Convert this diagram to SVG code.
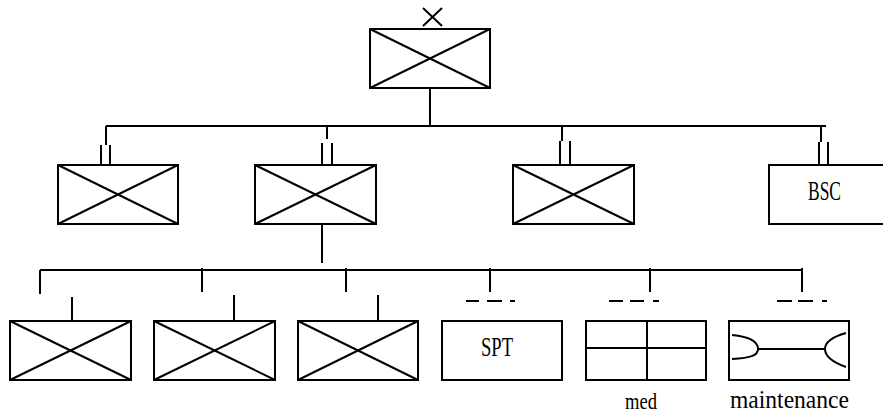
<svg xmlns="http://www.w3.org/2000/svg" width="883" height="414" viewBox="0 0 883 414">
<style>
.s{fill:none;stroke:#000;stroke-width:2}
.b{fill:#fff;stroke:#000;stroke-width:2}
.t{font-family:"Liberation Serif","Times New Roman",serif;fill:#000}
</style>
<rect width="883" height="414" fill="#fff"/>
<g id="connectors" class="s">
<path d="M430 88V126M106 126H826"/>
<path d="M106 126V145M101 145V165M110 145V165"/>
<path d="M327 126V139M322 143V165M332 143V165"/>
<path d="M562 126V141M560 141V165M570 141V165"/>
<path d="M821 126V142M819 142V165M828 142V165"/>
<path d="M322 224V263M40 270H802"/>
<path d="M40 270V294M202 268V292M346 268V292"/>
<path d="M72 297V321M234 295V321M378 295V321"/>
<path d="M490 268V292M650 268V292M802 268V292"/>
<path d="M466 301H479M487 301H502M510 301H515"/>
<path d="M609 301H623M630 301H644M653 301H659"/>
<path d="M777 301H792M798 301H813M822 301H827"/>
</g>
<g id="top">
<path class="s" d="M423 8L442 26M442 8L423 26"/>
<rect class="b" x="370" y="29" width="120" height="59"/>
<path class="s" d="M370 29L490 88M490 29L370 88"/>
</g>
<g id="n1"><rect class="b" x="58" y="165" width="120" height="59"/><path class="s" d="M58 165L178 224M178 165L58 224"/></g>
<g id="n2"><rect class="b" x="255" y="165" width="121" height="59"/><path class="s" d="M255 165L376 224M376 165L255 224"/></g>
<g id="n3"><rect class="b" x="513" y="165" width="121" height="59"/><path class="s" d="M513 165L634 224M634 165L513 224"/></g>
<g id="bsc"><rect class="b" x="769" y="165" width="121" height="59"/><text class="t" x="808" y="200" font-size="28" textLength="33" lengthAdjust="spacingAndGlyphs">BSC</text></g>
<g id="c1"><rect class="b" x="10" y="321" width="121" height="59"/><path class="s" d="M10 321L131 380M131 321L10 380"/></g>
<g id="c2"><rect class="b" x="154" y="321" width="121" height="59"/><path class="s" d="M154 321L275 380M275 321L154 380"/></g>
<g id="c3"><rect class="b" x="298" y="321" width="120" height="59"/><path class="s" d="M298 321L418 380M418 321L298 380"/></g>
<g id="spt"><rect class="b" x="442" y="321" width="120" height="59"/><text class="t" x="481" y="356" font-size="28" textLength="32" lengthAdjust="spacingAndGlyphs">SPT</text></g>
<g id="med"><rect class="b" x="586" y="321" width="120" height="59"/><path class="s" d="M647 321V380M586 348H706"/><text class="t" x="625" y="409" font-size="23" textLength="32" lengthAdjust="spacingAndGlyphs">med</text></g>
<g id="maint"><rect class="b" x="729" y="321" width="120" height="59"/><path class="s" d="M732 335C752 337 758 343 758 349C758 355 752 358 732 359M758 349H825M846 333C832 337 825 343 825 349C825 356 832 362 846 367"/><text class="t" x="730" y="408" font-size="25" textLength="119" lengthAdjust="spacingAndGlyphs">maintenance</text></g>
</svg>
